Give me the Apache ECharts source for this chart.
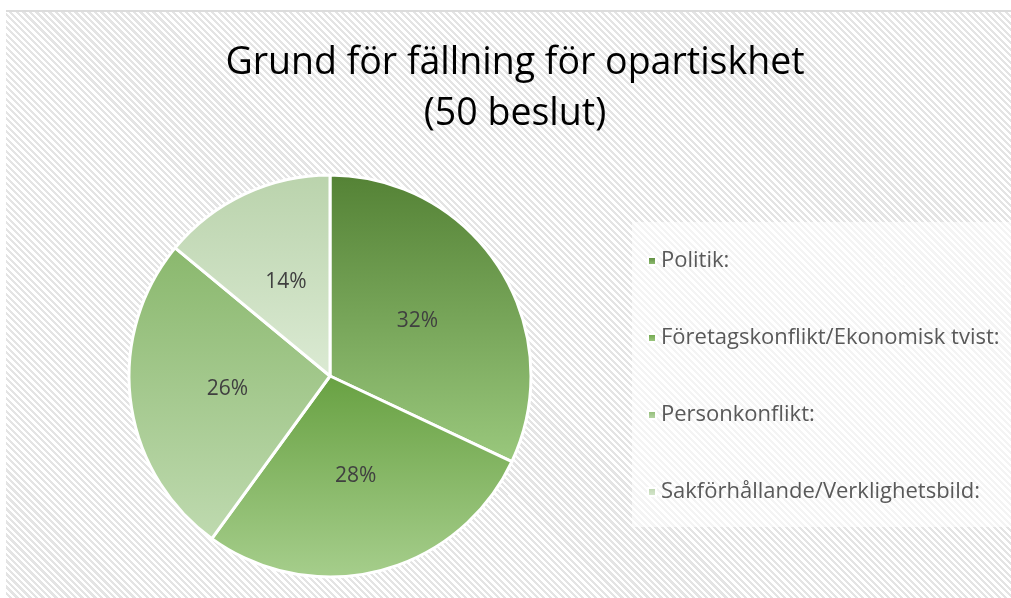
<!DOCTYPE html>
<html>
<head>
<meta charset="utf-8">
<script src="https://cdn.jsdelivr.net/npm/echarts@6.0.0/dist/echarts.min.js"></script>
<style>
  html, body { margin: 0; padding: 0; background: #fff; }
  #wrap { position: relative; width: 1011px; height: 598px; overflow: hidden; }
  #hatch {
    position: absolute; left: 6px; top: 10px; right: 0; bottom: 0;
    border-top: 2px solid #dcdcdc;
    background: repeating-linear-gradient(45deg, #ffffff 0px, #ffffff 2.4px, #e4e4e4 2.4px, #e4e4e4 4.6px);
  }
  #chart { position: absolute; left: 0; top: 0; width: 1011px; height: 598px; }
</style>
</head>
<body>
<div id="wrap">
  <div id="hatch"></div>
  <div id="chart"></div>
</div>
<script>
const titleLines = ["Grund för fällning för opartiskhet", "(50 beslut)"];
const categories = [
  "Politik:",
  "Företagskonflikt/Ekonomisk tvist:",
  "Personkonflikt:",
  "Sakförhållande/Verklighetsbild:"
];
const counts = [16, 14, 13, 7];
const topColors = ["#548235", "#68a142", "#8ab86d", "#bad3ac"];
const bottomColors = ["#9ac87d", "#a6ce8c", "#bfdab0", "#dbead3"];

function grad(i) {
  return new echarts.graphic.LinearGradient(0, 0, 0, 1, [
    { offset: 0, color: topColors[i] },
    { offset: 1, color: bottomColors[i] }
  ]);
}

const chart = echarts.init(document.getElementById("chart"), null, { renderer: "canvas" });
const font = "'Open Sans', Lato, sans-serif";

chart.setOption({
  animation: false,
  backgroundColor: "transparent",
  title: {
    text: titleLines.join("\n"),
    left: 510,
    textAlign: "center",
    top: 33,
    textStyle: { fontFamily: font, fontSize: 37.5, fontWeight: "normal", color: "#000", lineHeight: 51 }
  },
  graphic: [
    { type: "rect", shape: { x: 632, y: 222, width: 379, height: 305 }, style: { fill: "rgba(255,255,255,0.6)" }, z: -1 }
  ],
  legend: {
    orient: "vertical",
    left: 647,
    top: 249,
    padding: 0,
    itemGap: 53,
    itemWidth: 8,
    itemHeight: 8,
    icon: "rect",
    data: categories,
    textStyle: { fontFamily: font, fontSize: 22, color: "#595959", lineHeight: 24 }
  },
  series: [{
    type: "pie",
    center: [330, 376],
    radius: 201,
    startAngle: 90,
    clockwise: true,
    itemStyle: { borderColor: "#fff", borderWidth: 3 },
    label: {
      position: "inside",
      formatter: (p) => Math.round(p.percent) + "%",
      fontFamily: font,
      fontSize: 21,
      color: "#404040"
    },
    labelLine: { show: false },
    emphasis: { disabled: true },
    data: categories.map((name, i) => ({ name, value: counts[i], itemStyle: { color: grad(i) } }))
  }]
});
</script>
</body>
</html>
